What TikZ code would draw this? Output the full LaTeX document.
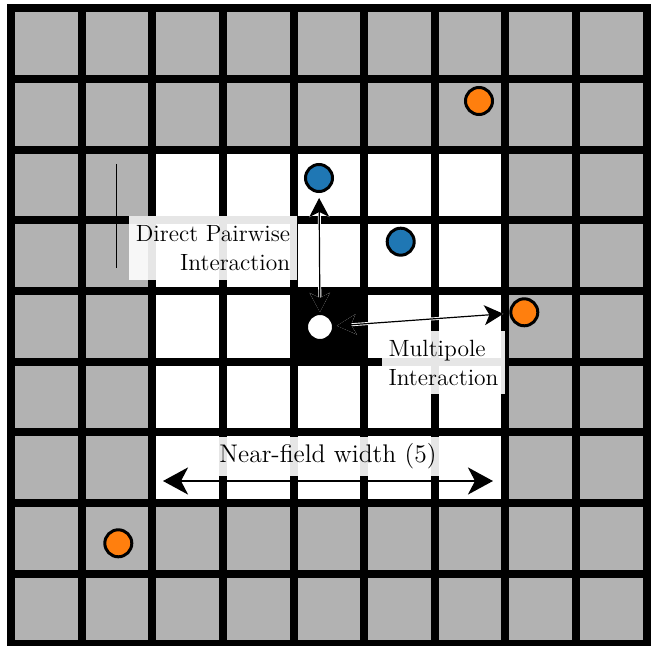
\documentclass[tikz,border=0pt]{standalone}
\usetikzlibrary{arrows.meta}
\definecolor{cellgray}{gray}{0.7}
\definecolor{tabblue}{HTML}{1F77B4}
\definecolor{taborange}{HTML}{FF7F0E}
\tikzset{
  particle/.style={circle, draw=black, line width=1.5pt, minimum size=13.5pt, inner sep=0pt},
  halo/.style={draw=white, line width=1.5pt, {Stealth[length=9.5pt,width=10pt,inset=2.5pt]}-{Stealth[length=9.5pt,width=10pt,inset=2.5pt]}},
  core/.style={draw=black, line width=0.6pt, {Stealth[length=9.5pt,width=10pt,inset=2.5pt]}-{Stealth[length=9.5pt,width=10pt,inset=2.5pt]}},
  widtharrow/.style={draw=black, line width=1.4pt, {Stealth[length=12.5pt,width=13.5pt,inset=3.5pt]}-{Stealth[length=12.5pt,width=13.5pt,inset=3.5pt]}},
  lbl/.style={fill=white, fill opacity=0.9, text opacity=1, inner xsep=3.5pt, inner ysep=4.5pt, font=\fontsize{11.75}{14.5}\selectfont},
  gridline/.style={draw=black, line width=4pt}
}
\begin{document}
\begin{tikzpicture}[x=0.5pt,y=-0.5pt]
\useasboundingbox (0,0) rectangle (654,646);
\begin{scope}[shift={(11,8.5)}, x=35.315pt, y=-35.315pt]
  \fill[cellgray] (0,0) rectangle (9,9);
  \fill[white] (2,2) rectangle (7,7);
  \fill[black] (4,4) rectangle (5,5);
  \foreach \k in {1,...,8} {
    \draw[gridline] (\k,0) -- (\k,9);
    \draw[gridline] (0,\k) -- (9,\k);
  }
  \draw[gridline] (0,0) rectangle (9,9);
\end{scope}
% stray thin line
\coordinate (s1) at (116.7,164);
\coordinate (s2) at (116.7,268);
\draw[line width=0.7pt] (s1) -- (s2);
% particles
\node[particle, fill=taborange] (o1) at (479,101) {};
\node[particle, fill=tabblue] (b1) at (319,178) {};
\node[particle, fill=tabblue] (b2) at (400.7,241.7) {};
\node[particle, fill=white] (w) at (320,327) {};
\node[particle, fill=taborange] (o2) at (524.3,312.3) {};
\node[particle, fill=taborange] (o3) at (118.3,543.3) {};
% direct pairwise arrow
\draw[halo, shorten <=2.5pt] (b1) -- (w);
\draw[core, shorten <=2.5pt] (b1) -- (w);
% multipole arrow
\draw[halo, shorten <=1pt, shorten >=3pt] (w) -- (o2);
\draw[core, shorten <=1pt, shorten >=3pt] (w) -- (o2);
% near-field width arrow
\coordinate (nl) at (163,481);
\coordinate (nr) at (493,481);
\draw[widtharrow] (nl) -- (nr);
% labels
\node[lbl, align=right] (dpi) at (213,248) {Direct Pairwise\\Interaction};
\node[lbl, align=left] (mpi) at (443.5,362.5) {Multipole\\Interaction};
\node[lbl, font=\fontsize{12.75}{15}\selectfont, inner ysep=3.5pt, anchor=base] (nfw) at (328,463) {Near-field width (5)};
\end{tikzpicture}
\end{document}
